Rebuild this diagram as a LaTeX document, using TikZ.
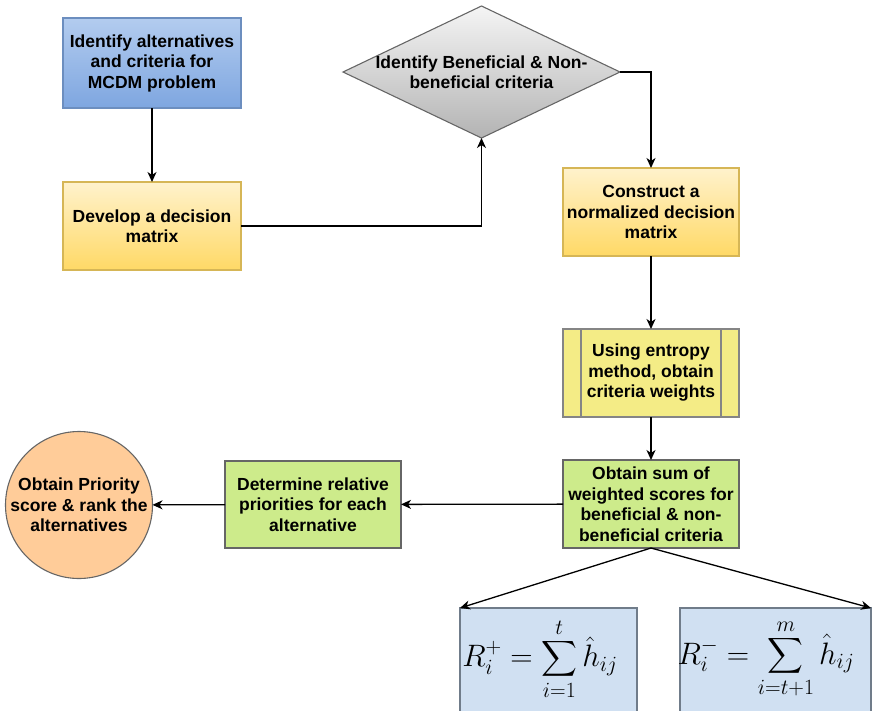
\RequirePackage{fix-cm}
\documentclass[tikz,border=0pt]{standalone}
\usepackage{amsmath}
\usepackage[no-math]{fontspec}
\setmainfont{Liberation Sans}
\usetikzlibrary{arrows.meta,shapes.geometric}

\definecolor{blueTop}{HTML}{B3CCEF}
\definecolor{blueBot}{HTML}{7EA6E0}
\definecolor{blueLine}{HTML}{6C8EBF}
\definecolor{yelTop}{HTML}{FFF2CC}
\definecolor{yelBot}{HTML}{FFD966}
\definecolor{yelLine}{HTML}{D6B656}
\definecolor{grayTop}{HTML}{F5F5F5}
\definecolor{grayBot}{HTML}{B3B3B3}
\definecolor{grayLine}{HTML}{666666}
\definecolor{procFill}{HTML}{F4EC86}
\definecolor{greenFill}{HTML}{CDEB8B}
\definecolor{peach}{HTML}{FFCC99}
\definecolor{formFill}{HTML}{D0E0F2}
\definecolor{formLine}{HTML}{707C8A}

\begin{document}
\begin{tikzpicture}[x=1pt,y=-1pt,
  txt/.style={font=\bfseries\fontsize{17.5}{20.5}\selectfont, align=center, inner sep=0pt},
  box/.style={txt, rectangle, draw, line width=1.1pt, minimum width=176pt,
              minimum height=88pt, outer sep=0pt},
  bluebox/.style={box, draw=blueLine, top color=blueTop, bottom color=blueBot},
  yelbox/.style={box, draw=yelLine, top color=yelTop, bottom color=yelBot},
  procbox/.style={box, draw=grayLine!80, fill=procFill},
  greenbox/.style={box, draw=grayLine, fill=greenFill},
  formbox/.style={rectangle, draw=formLine, line width=1.1pt, fill=formFill,
                  inner sep=0pt, outer sep=0pt, minimum height=104pt},
  formula/.style={inner sep=0pt, font=\fontsize{31}{36}\selectfont},
  arr/.style={line width=1.3pt, -{Stealth[length=10pt,width=9pt,inset=3pt]}}
]
\useasboundingbox (0,0) rectangle (872,710);
\clip (0,0) rectangle (872,710);

% left column
\node[bluebox, minimum width=178pt, minimum height=90pt] (alt) at (152,63)
  {Identify alternatives\\and criteria for\\MCDM problem};
\node[yelbox, minimum width=178pt] (dev) at (152,226)
  {Develop a decision\\matrix};

% decision diamond with its caption
\node[diamond, draw=grayLine, line width=1.1pt, top color=grayTop, bottom color=grayBot,
      minimum width=277pt, minimum height=132pt, inner sep=0pt, outer sep=0pt]
  (ben) at (481.5,72) {};
\node[txt] (bentxt) at (ben.center) {Identify Beneficial \& Non-\\beneficial criteria};

% right column
\node[yelbox] (norm) at (651,212) {Construct a\\normalized decision\\matrix};
\node[procbox] (ent) at (651,373) {Using entropy\\method, obtain\\criteria weights};
\draw[grayLine!80, line width=1.1pt]
  ([xshift=18pt]ent.north west) -- ([xshift=18pt]ent.south west)
  ([xshift=-18pt]ent.north east) -- ([xshift=-18pt]ent.south east);
\node[greenbox] (sum) at (651,504)
  {Obtain sum of\\weighted scores for\\beneficial \& non-\\beneficial criteria};

% bottom row
\node[greenbox, minimum height=87pt] (rel) at (313,504.5)
  {Determine relative\\priorities for each\\alternative};
\node[circle, draw=grayLine, line width=1.1pt, fill=peach, minimum size=147pt,
      inner sep=0pt, outer sep=0pt] (pri) at (79,505) {};
\node[txt] (pritxt) at (pri.center) {Obtain Priority\\score \& rank the\\alternatives};

% score formulas
\node[formbox, minimum width=177pt] (rp) at (548.5,660) {};
\node[formula] (rpf) at (540,659)
  {$\displaystyle R_i^{+} = \sum_{i=1}^{t} \hat{h}_{ij}$};
\node[formbox, minimum width=191pt] (rm) at (775.5,660) {};
\node[formula] (rmf) at (766,659)
  {$\displaystyle R_i^{-} = \sum_{i=t+1}^{m} \hat{h}_{ij}$};

% connectors
\draw[arr] (alt) -- (dev);
\draw[arr] (dev.east) -| (ben.south);
\draw[arr] (ben.east) -| (norm.north);
\draw[arr] (norm) -- (ent);
\draw[arr] (ent) -- (sum);
\draw[arr] (sum) -- (rel);
\draw[arr] (rel) -- (pri);
\draw[arr] (sum.south) -- (rp.north west);
\draw[arr] (sum.south) -- (rm.north east);
\end{tikzpicture}
\end{document}
